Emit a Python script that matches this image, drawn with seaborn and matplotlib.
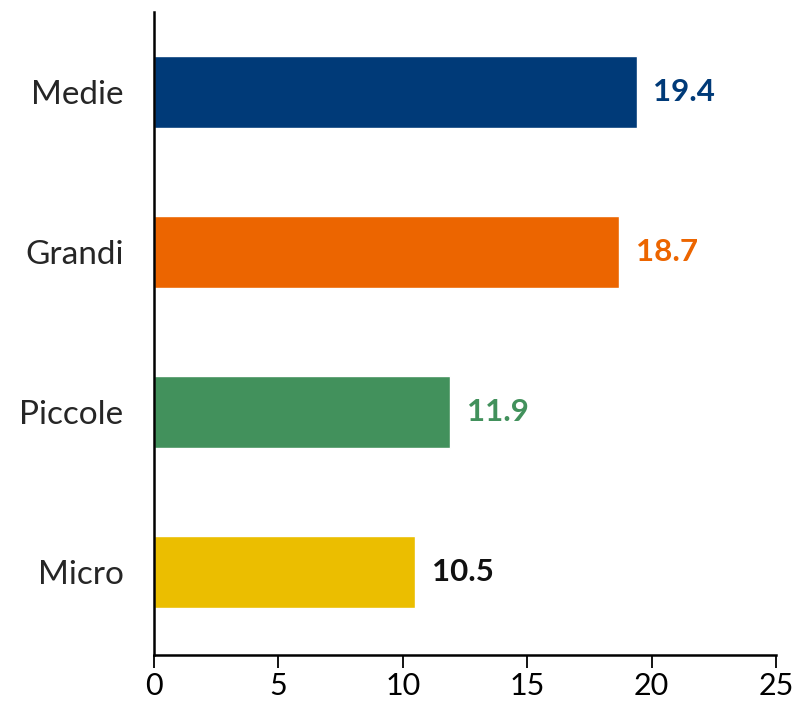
import pandas as pd
import matplotlib
matplotlib.use('Agg')
import matplotlib.pyplot as plt
import seaborn as sns

# data
categories = ['Medie', 'Grandi', 'Piccole', 'Micro']
values = [19.4, 18.7, 11.9, 10.5]
bar_colors = ['#003A78', '#EC6500', '#42915C', '#EBBE00']
label_colors = ['#003A78', '#EC6500', '#42915C', '#111111']

df = pd.DataFrame({'categoria': categories, 'valore': values})

sns.set_style('white')
plt.rcParams['font.family'] = ['Lato', 'DejaVu Sans']

fig = plt.figure(figsize=(7.98, 7.05), dpi=100)
ax = fig.add_axes([0.193, 0.071, 0.7794, 0.912])

sns.barplot(data=df, y='categoria', x='valore', hue='categoria',
            palette=bar_colors, orient='h', width=0.45, legend=False,
            saturation=1, ax=ax)

for i, (v, c) in enumerate(zip(values, label_colors)):
    ax.annotate(f'{v:.1f}', xy=(v, i), xytext=(12, 0), textcoords='offset points',
                va='center', ha='left', fontsize=22.5, fontweight='bold', color=c)

ax.set_xlim(0, 25)
ax.set_ylim(3.52, -0.5)
ax.set_xticks(range(0, 26, 5))
ax.set_xlabel('')
ax.set_ylabel('')
sns.despine(ax=ax)
for s in ['left', 'bottom']:
    ax.spines[s].set_linewidth(1.8)
    ax.spines[s].set_color('black')
ax.tick_params(axis='x', direction='out', length=9, width=1.3, colors='black',
               labelsize=22, pad=3, bottom=True)
ax.tick_params(axis='y', length=0, labelsize=24, pad=22, left=False)

fig.savefig('out.png', dpi=100)
